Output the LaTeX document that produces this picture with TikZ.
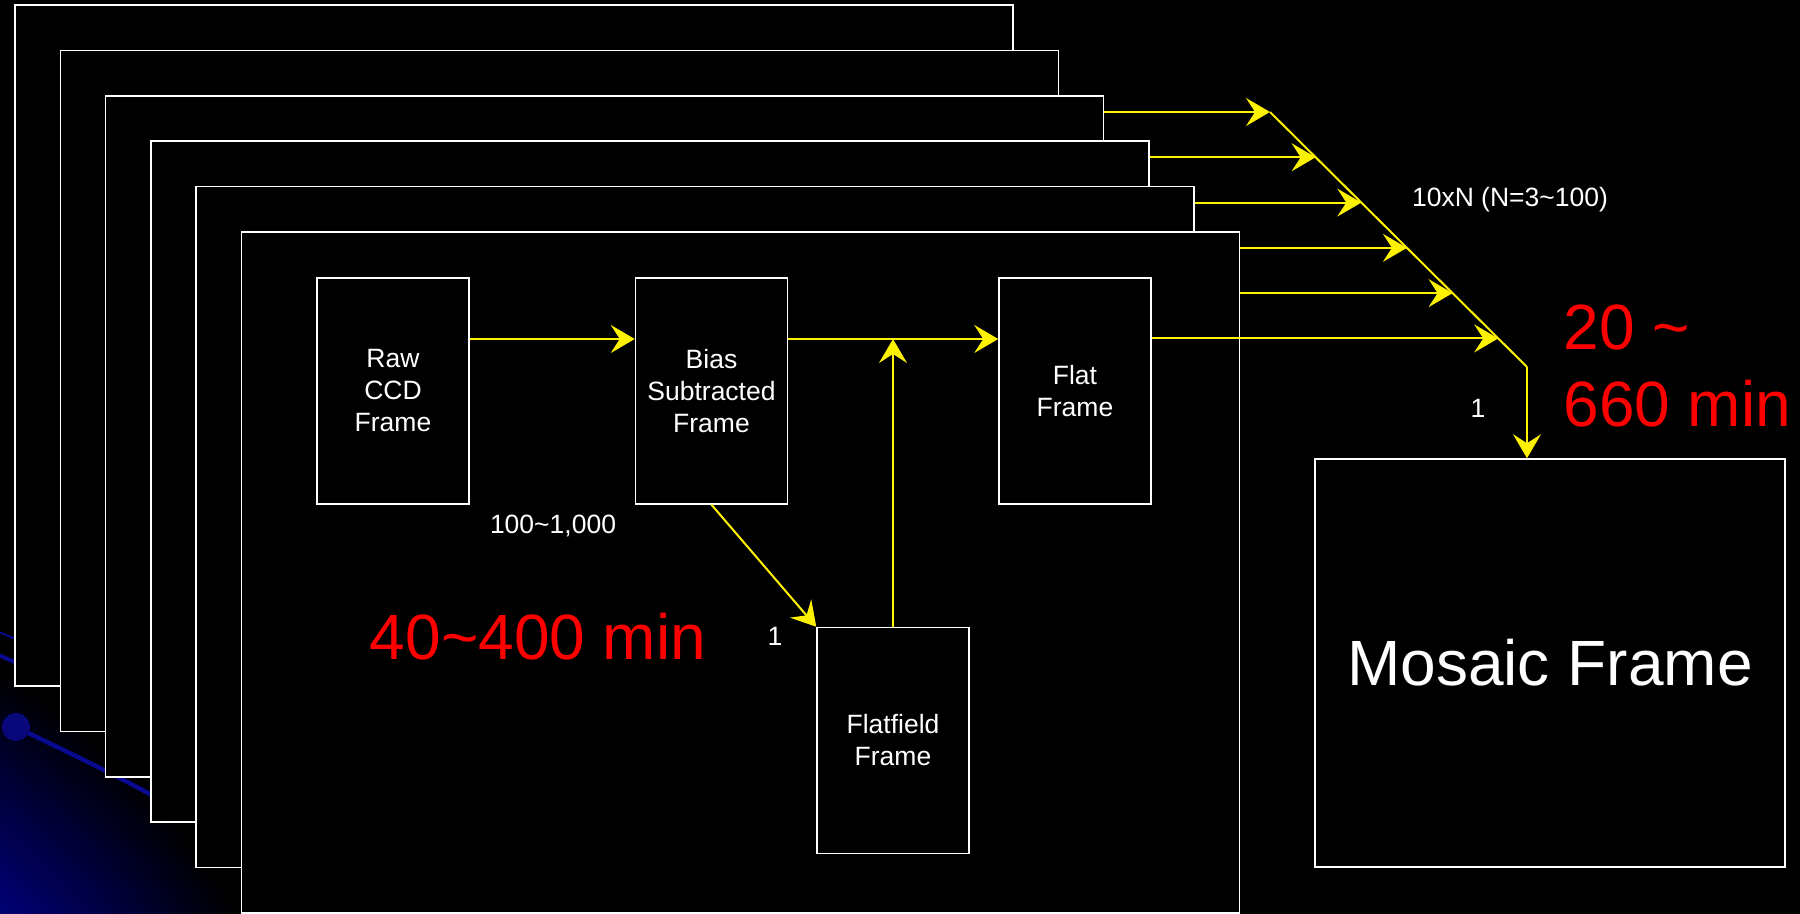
\documentclass[tikz,border=0pt]{standalone}
\usepackage{fontspec}
\setmainfont{Liberation Sans}
\usetikzlibrary{arrows.meta,positioning,calc}
\definecolor{globeblue}{RGB}{0,0,150}
\definecolor{orbitblue}{RGB}{10,10,145}
\pgfdeclareradialshading{globe}{\pgfpoint{0bp}{0bp}}{color(0bp)=(globeblue!60!blue); color(16bp)=(globeblue); color(25bp)=(black); color(50bp)=(black)}

\begin{document}
\begin{tikzpicture}[
    x=0.5pt, y=-0.5pt,
    platebox/.style={rectangle, draw=white, fill=black, line width=0.75pt, minimum width=499pt, minimum height=340.5pt},
    stepbox/.style={rectangle, draw=white, fill=black, line width=0.75pt, text=white, align=center, minimum width=76pt, minimum height=113pt, font=\fontsize{13.25pt}{16pt}\selectfont},
    mosaicbox/.style={stepbox, minimum width=235pt, minimum height=204pt, font=\fontsize{32pt}{38pt}\selectfont},
    lbl/.style={text=white, inner sep=0pt, font=\fontsize{13.25pt}{16pt}\selectfont},
    timelabel/.style={text=red, inner sep=0pt, align=left, font=\fontsize{32pt}{38.5pt}\selectfont},
    flow/.style={draw=yellow, line width=1pt, -{Stealth[length=12pt, width=14pt, inset=4.5pt]}},
    orbit/.style={draw=orbitblue, line cap=round}
    ]

    %Background
    \useasboundingbox (0,0) rectangle (1800,914);
    \fill[black] (0,0) rectangle (1800,914);
    \begin{scope}
        \clip (0,0) rectangle (1800,914);
        \shade[shading=globe] (-350,1250) circle [radius=338.5pt];
        \draw[orbit, line width=1pt] (-20,624) -- (160,700);
        \draw[orbit, line width=2pt] (-20,647) -- (160,725);
        \draw[orbit, line width=2.2pt] (16,727) .. controls (100,768) and (160,795) .. (260,860);
        \fill[orbitblue!85!black] (16,727) circle [radius=7pt];
    \end{scope}

    %Stacked exposures, back to front
    \foreach \i in {0,...,5}
        \node[platebox] (plate\i) at ({514+45.3*\i},{345.5+45.4*\i}) {};

    %Nodes
    \node[stepbox] (raw) at (393,391)                      {Raw\\CCD\\Frame};
    \node[stepbox] (bias) [right=82.5pt of raw]            {Bias\\Subtracted\\Frame};
    \node[stepbox] (flat) [right=105pt of bias]            {Flat\\Frame};
    \node[stepbox] (ffield) [below right=61pt and 14pt of bias] {Flatfield\\Frame};
    \node[mosaicbox] (mosaic) at (1550,663)                {Mosaic Frame};

    % Text labels
    \node[lbl] (nraw) at (553,526)      {100\textasciitilde1,000};
    \node[lbl] (nflat) at (775,636)     {1};
    \node[lbl] (nmos) at (1478,408)     {1};
    \node[lbl] (nstack) at (1510,200)   {10xN (N=3\textasciitilde100)};
    \node[timelabel] (tflat) at (538,637) {40\textasciitilde400 min};
    \node[timelabel, anchor=west] (tmosaic) at (1563,366) {20 \textasciitilde\\660 min};

    %Lines
    \coordinate (ctop) at (1270,112);
    \coordinate (cbend) at (1527,367);
    \coordinate (fjoin) at ([yshift=26pt]flat.west);
    \foreach \k in {0,...,5}
        \coordinate (tip\k) at ($(ctop)!{\k*0.1776}!(cbend)$);

    \draw[flow] ([yshift=26pt]raw.east) -- ([yshift=26pt]bias.west);
    \draw[flow] ([yshift=26pt]bias.east) -- (fjoin);
    \draw[flow] (bias.south) -- (ffield.north west);
    \draw[flow] (ffield.north) -- (ffield.north |- fjoin);

    \foreach \src [count=\k from 0] in {plate2,plate3,plate4,plate5,plate5,flat}
        \draw[flow] (\src.east |- tip\k) -- (tip\k);
    \draw[draw=yellow, line width=1pt] (ctop) -- (cbend);
    \draw[flow] (cbend) -- (cbend |- mosaic.north);
\end{tikzpicture}
\end{document}
